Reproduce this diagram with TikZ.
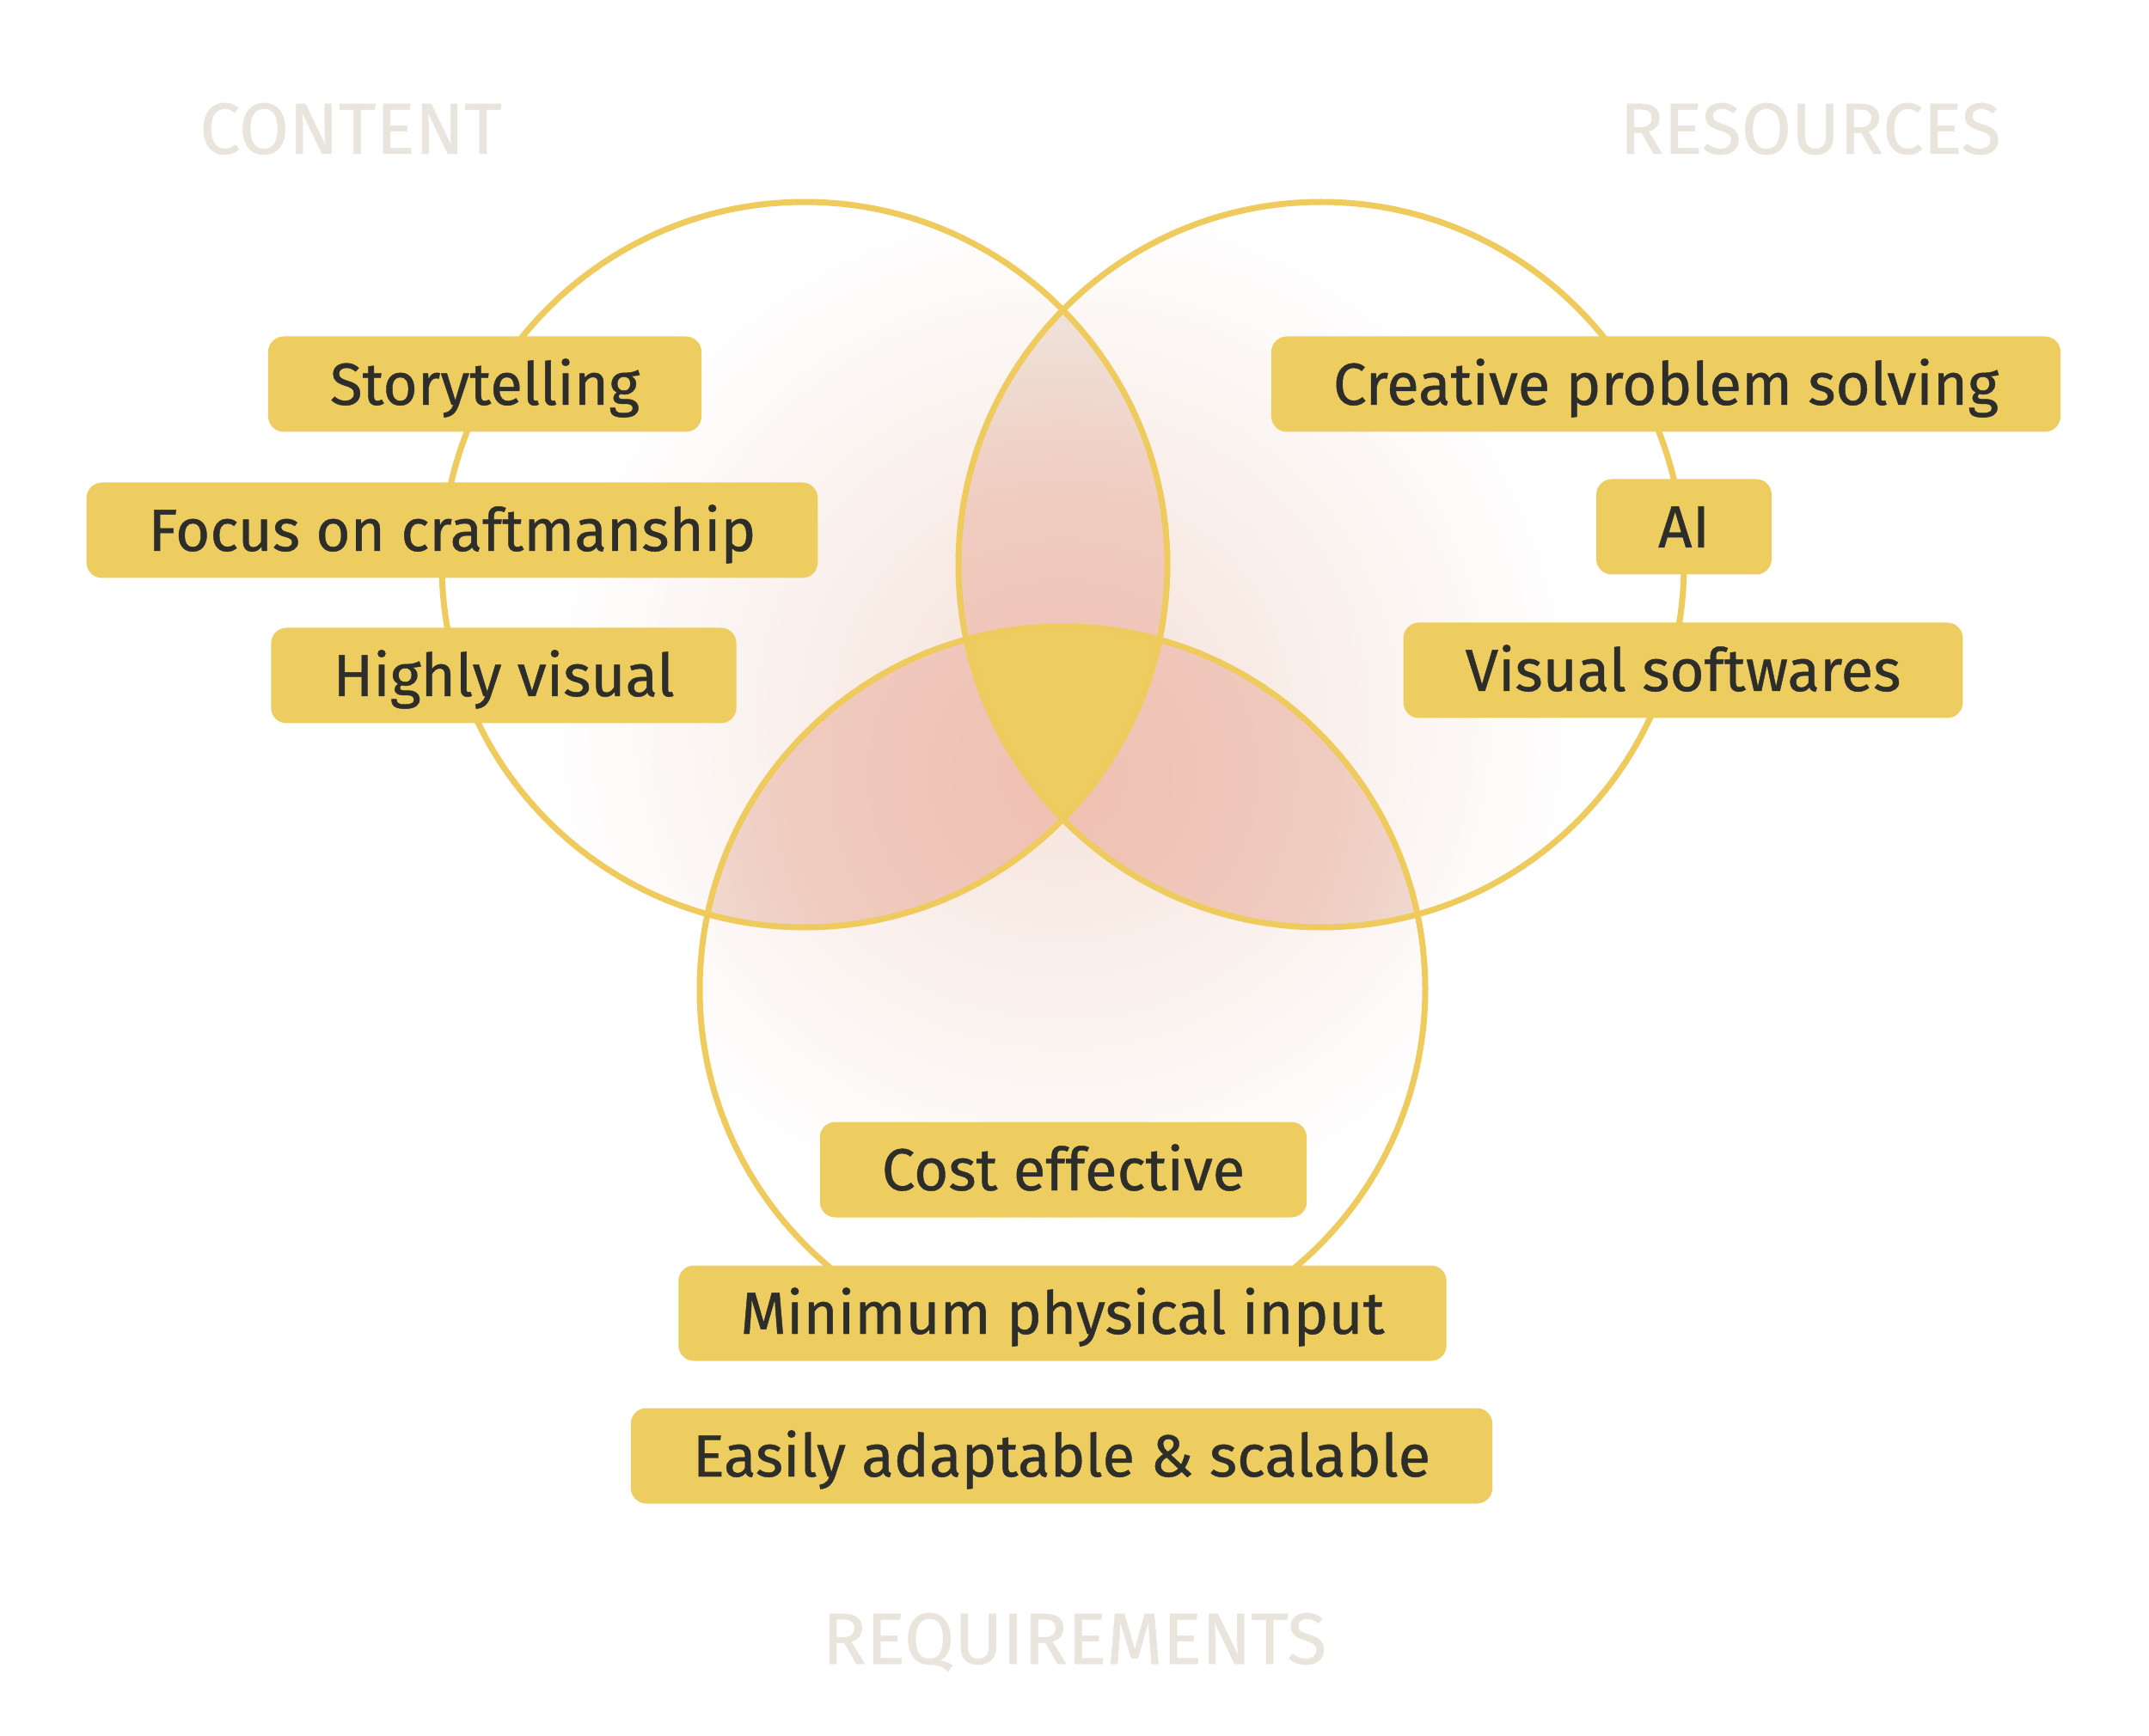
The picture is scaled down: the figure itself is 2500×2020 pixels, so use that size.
\documentclass[tikz,border=0pt]{standalone}
\usepackage{fontspec}
\setmainfont{Fira Sans}
\newfontfamily\tagfont{Fira Sans}[FakeBold=0.6]

\definecolor{ringyellow}{HTML}{EECB5C}
\definecolor{tagyellow}{HTML}{EECD60}
\definecolor{tagtext}{HTML}{2D2D29}
\definecolor{titlebeige}{HTML}{EAE5DC}
\definecolor{glowpink}{HTML}{F2D3C8}
\definecolor{glowsoft}{HTML}{F8EAE4}
\definecolor{lenspink}{HTML}{EFC0B2}
\definecolor{lensmid}{HTML}{F0CBBF}
\definecolor{lensbeige}{HTML}{EFE2DA}

% soft glow round the middle of the diagram
\pgfdeclareradialshading{ringglow}{\pgfpoint{0bp}{0bp}}{color(0bp)=(glowpink); color(13bp)=(glowsoft); color(25bp)=(white); color(50bp)=(white)}
\pgfdeclareradialshading{lensglow}{\pgfpoint{0bp}{0bp}}{color(0bp)=(lenspink); color(14bp)=(lensmid); color(24bp)=(lensbeige); color(50bp)=(lensbeige)}

\tikzset{every picture/.style={line width=2.1pt}}
\tikzset{
  ring/.style={draw=ringyellow, line width=2.1pt},
  tag/.style={fill=tagyellow, rounded corners=5.4pt, text=tagtext,
    font=\tagfont\fontsize{20.7}{24}\selectfont, inner xsep=21.6pt, inner ysep=0pt,
    text height=14.4pt, text depth=0pt, minimum height=33.3pt},
  heading/.style={text=titlebeige, font=\tagfont\fontsize{25.3}{30}\selectfont, anchor=base},
}

\begin{document}
\begin{tikzpicture}[x=0.3pt,y=0.3pt,yscale=-1,xscale=1]
	\useasboundingbox (0,0) rectangle (2500,2020);
	\fill[white] (0,0) rectangle (2500,2020);

	% circle centres
	\coordinate (cl) at (936,657);
	\coordinate (cr) at (1537,657);
	\coordinate (cb) at (1236,1151);
	\coordinate (mid) at (1236,830);
	\coordinate (lensc) at (1236,900);

	%Shape: glow inside each circle
	\foreach \c in {cl,cr,cb}{
		\begin{scope}
			\clip (\c) circle (422);
			\shade[shading=ringglow, opacity=0.7] (mid) circle (600);
		\end{scope}
	}
	%Shape: pairwise overlaps
	\begin{scope}
		\clip (cl) circle (422); \clip (cr) circle (422);
		\shade[shading=lensglow] (lensc) circle (560);
	\end{scope}
	\begin{scope}
		\clip (cl) circle (422); \clip (cb) circle (422);
		\shade[shading=lensglow] (lensc) circle (560);
	\end{scope}
	\begin{scope}
		\clip (cr) circle (422); \clip (cb) circle (422);
		\shade[shading=lensglow] (lensc) circle (560);
	\end{scope}
	%Shape: centre of all three
	\begin{scope}
		\clip (cl) circle (422); \clip (cr) circle (422); \clip (cb) circle (422);
		\fill[tagyellow] (mid) circle (400);
	\end{scope}

	%Shape: Circles
	\draw[ring] (cl) circle (422);
	\draw[ring] (cr) circle (422);
	\draw[ring] (cb) circle (422);

	% Text Node
	\node[tag] (story) at (564,447) {Storytelling};
	\node[tag] (craft) at (526,617) {Focus on craftmanship};
	\node[tag] (highvis) at (586,786) {Highly visual};
	% Text Node
	\node[tag] (creative) at (1938,447) {Creative problem solving};
	\node[tag] (ai) at (1959,613) {AI};
	\node[tag] (visoft) at (1958,780) {Visual softwares};
	% Text Node
	\node[tag] (cost) at (1237,1361) {Cost effective};
	\node[tag] (mininput) at (1236,1528) {Minimum physical input};
	\node[tag] (easy) at (1235,1694) {Easily adaptable \& scalable};

	% Text Node
	\node[heading] (content) at (408,179) {CONTENT};
	\node[heading] (resources) at (2106,179) {RESOURCES};
	\node[heading] (requirements) at (1250,1936) {REQUIREMENTS};

\end{tikzpicture}
\end{document}
